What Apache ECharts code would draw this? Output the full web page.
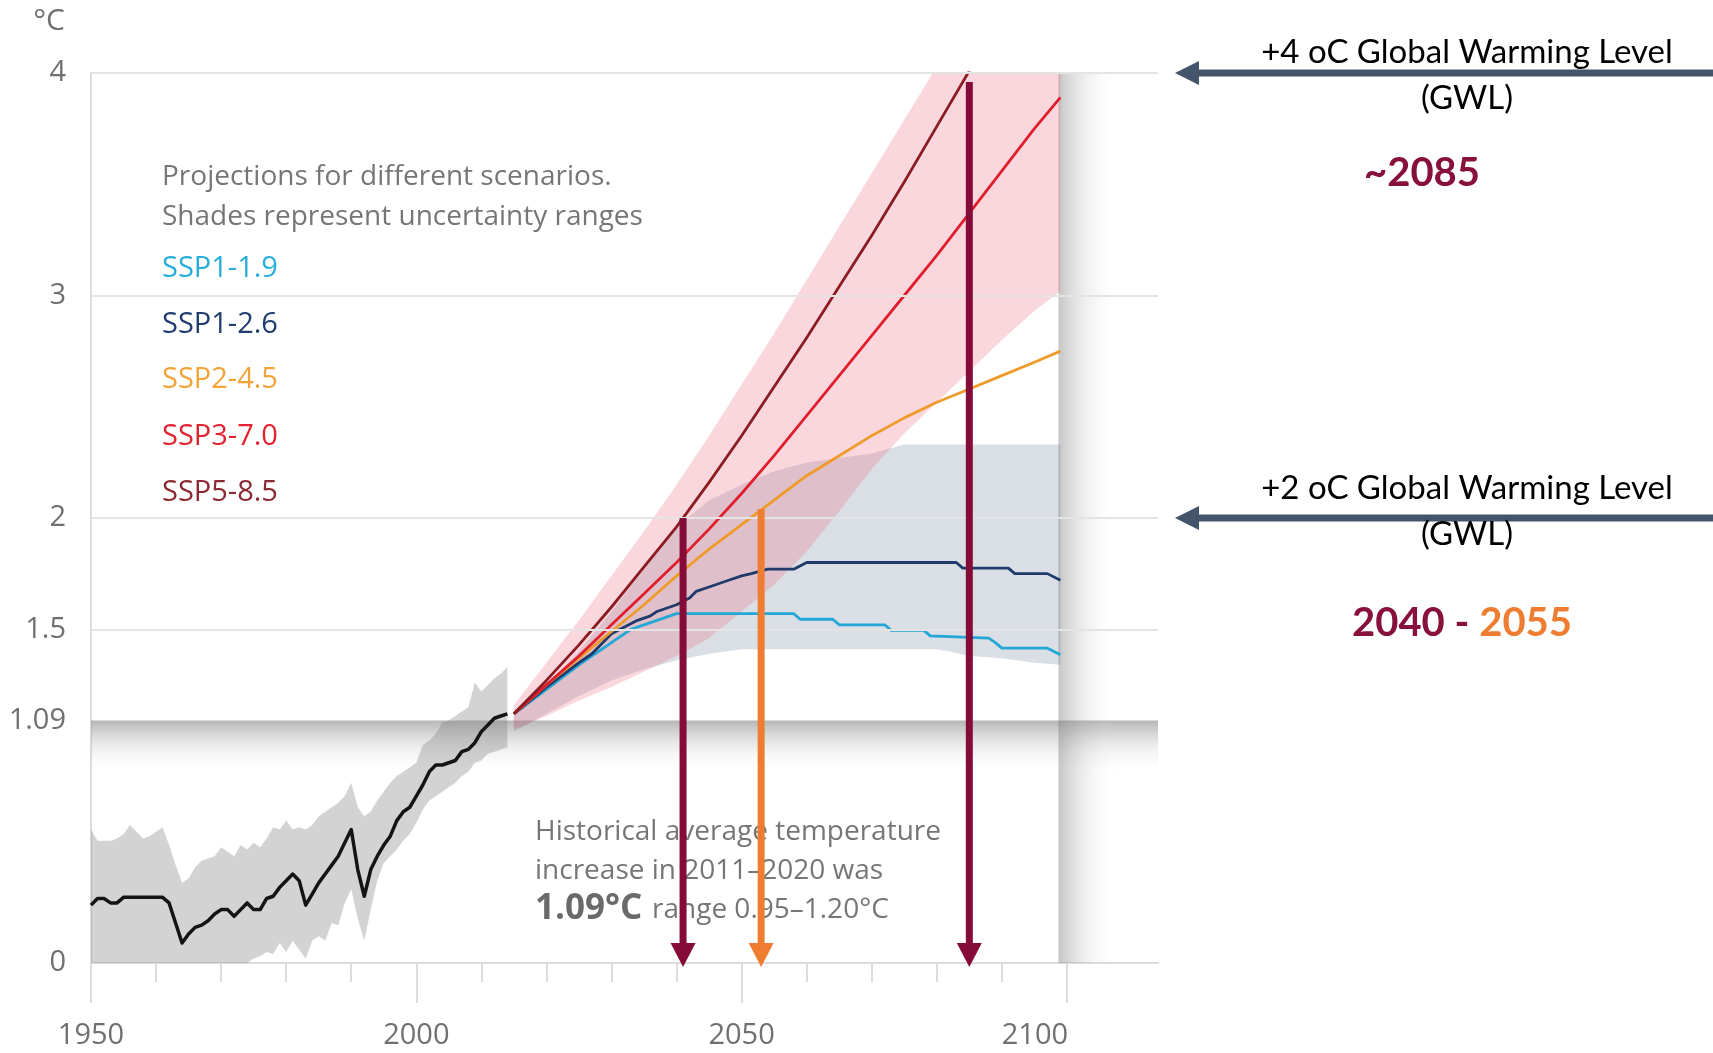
<!DOCTYPE html>
<html>
<head>
<meta charset="utf-8">
<title>Global surface temperature: observed and projected</title>
<script src="https://cdn.jsdelivr.net/npm/echarts@6.0.0/dist/echarts.min.js"></script>
<style>
  html, body { margin: 0; padding: 0; background: #ffffff; }
  #chart { width: 1713px; height: 1053px; }
</style>
</head>
<body>
<div id="chart"></div>
<script>
// ---------------- Observed warming 1950-2014 (°C) ----------------
const histYears = [];
for (let y = 1950; y <= 2014; y++) histYears.push(y);

const histMean = [
  0.26, 0.29, 0.29, 0.27, 0.27, 0.295, 0.295, 0.295, 0.295, 0.295,
  0.295, 0.295, 0.27, 0.18, 0.09, 0.13, 0.16, 0.17, 0.19, 0.22,
  0.24, 0.24, 0.21, 0.24, 0.27, 0.24, 0.24, 0.29, 0.30, 0.34,
  0.37, 0.40, 0.37, 0.26, 0.31, 0.36, 0.40, 0.44, 0.48, 0.54,
  0.60, 0.42, 0.30, 0.42, 0.48, 0.53, 0.57, 0.64, 0.68, 0.70,
  0.75, 0.80, 0.86, 0.89, 0.89, 0.90, 0.91, 0.95, 0.96, 0.99,
  1.04, 1.07, 1.10, 1.11, 1.12
];
const histHigh = [
  0.60, 0.55, 0.55, 0.55, 0.56, 0.58, 0.62, 0.59, 0.56, 0.57,
  0.59, 0.61, 0.53, 0.44, 0.36, 0.38, 0.43, 0.46, 0.47, 0.48,
  0.52, 0.50, 0.48, 0.53, 0.51, 0.54, 0.52, 0.56, 0.61, 0.60,
  0.64, 0.60, 0.61, 0.60, 0.62, 0.66, 0.68, 0.70, 0.72, 0.75,
  0.81, 0.70, 0.66, 0.68, 0.73, 0.77, 0.81, 0.84, 0.86, 0.88,
  0.90, 0.98, 1.00, 1.03, 1.08, 1.09, 1.11, 1.13, 1.15, 1.26,
  1.22, 1.25, 1.28, 1.30, 1.33
];
const histLow = [
  0, 0, 0, 0, 0, 0, 0, 0, 0, 0,
  0, 0, 0, 0, 0, 0, 0, 0, 0, 0,
  0, 0, 0, 0, 0, 0.02, 0.03, 0.05, 0.04, 0.09,
  0.05, 0.10, 0.06, 0.02, 0.10, 0.12, 0.10, 0.18, 0.17, 0.27,
  0.33, 0.20, 0.10, 0.24, 0.37, 0.45, 0.48, 0.51, 0.55, 0.58,
  0.63, 0.69, 0.73, 0.75, 0.77, 0.79, 0.81, 0.84, 0.86, 0.90,
  0.91, 0.94, 0.95, 0.96, 0.97
];

// ---------------- Scenario projections 2015-2099 (°C) ----------------
const ssp119 = [[2015,1.12],[2020,1.23],[2025,1.34],[2027,1.38],[2029,1.42],[2031,1.46],[2033,1.50],[2036,1.53],[2038,1.55],[2040,1.57],[2058,1.57],[2059,1.545],[2064,1.545],[2065,1.52],[2072,1.52],[2073,1.495],[2078,1.495],[2079,1.47],[2088,1.46],[2089,1.44],[2090,1.415],[2097,1.415],[2099,1.385]];
const ssp126 = [[2015,1.12],[2020,1.24],[2025,1.35],[2027,1.39],[2030,1.48],[2032,1.51],[2034,1.54],[2036,1.56],[2037,1.58],[2040,1.61],[2042,1.64],[2043,1.67],[2045,1.69],[2047,1.71],[2048,1.72],[2050,1.74],[2051.5,1.75],[2054,1.77],[2058,1.77],[2060,1.80],[2083,1.80],[2084,1.775],[2091,1.775],[2092,1.75],[2097,1.75],[2099,1.72]];
const ssp245 = [[2015,1.12],[2020,1.25],[2025,1.37],[2030,1.49],[2035,1.61],[2040,1.74],[2045,1.86],[2050,1.97],[2055,2.08],[2060,2.19],[2065,2.28],[2070,2.37],[2075,2.45],[2080,2.52],[2085,2.58],[2090,2.64],[2095,2.70],[2099,2.75]];
const ssp370 = [[2015,1.12],[2020,1.25],[2025,1.38],[2030,1.52],[2035,1.66],[2040,1.80],[2045,1.95],[2050,2.11],[2055,2.28],[2060,2.46],[2065,2.64],[2070,2.82],[2075,3.00],[2080,3.18],[2085,3.37],[2090,3.56],[2095,3.75],[2099,3.89]];
const ssp585 = [[2015,1.12],[2020,1.27],[2025,1.43],[2030,1.60],[2035,1.78],[2040,1.96],[2045,2.16],[2050,2.37],[2055,2.59],[2060,2.81],[2065,3.04],[2070,3.27],[2075,3.51],[2080,3.76],[2085,4.01],[2090,4.26],[2095,4.51],[2099,4.71]];

// Uncertainty ranges
const highRangeYears = [2015,2020,2025,2030,2035,2040,2045,2050,2055,2060,2065,2070,2075,2080,2085,2090,2095,2099];
const highRangeLow  = [1.05,1.11,1.18,1.24,1.31,1.38,1.46,1.58,1.70,1.85,2.03,2.22,2.38,2.52,2.66,2.80,2.93,3.02];
const highRangeHigh = [1.16,1.35,1.54,1.74,1.94,2.15,2.37,2.60,2.83,3.07,3.31,3.55,3.79,4.03,4.27,4.51,4.75,4.95];

const lowRangeYears = [2015,2020,2025,2030,2035,2040,2045,2050,2055,2060,2065,2070,2075,2080,2082,2085,2090,2095,2099];
const lowRangeLow  = [1.04,1.12,1.20,1.27,1.32,1.36,1.39,1.41,1.41,1.41,1.41,1.41,1.41,1.41,1.40,1.38,1.37,1.35,1.34];
const lowRangeHigh = [1.13,1.25,1.40,1.58,1.77,1.96,2.08,2.15,2.21,2.25,2.27,2.29,2.33,2.33,2.33,2.33,2.33,2.33,2.33];

// Years at which the warming levels are crossed, and the level reached
const gwlYears = [2041, 2053, 2085];
const gwlLevels = [2.0, 2.04, 3.96];

// Axis ticks
const yTickValues = [0, 1.09, 1.5, 2, 3, 4];
const gridValues = [1.5, 2, 3, 4];
const xLabelValues = [1950, 2000, 2050, 2100];
const decadeTicks = [];
for (let y = 1950; y <= 2100; y += 10) decadeTicks.push(y);

const scenarioNames = ['SSP1-1.9', 'SSP1-2.6', 'SSP2-4.5', 'SSP3-7.0', 'SSP5-8.5'];

// ---------------- styling ----------------
const lineColors  = ['#22a7d6', '#1f3a6b', '#ee9b2c', '#df1f2d', '#8a1c22'];
const labelColors = ['#27aedb', '#203e70', '#f2a43a', '#e2222e', '#8b2a35'];
const arrowColors = ['#850c38', '#ee7d31', '#850c38'];
const MAROON = '#87103d', ORANGE = '#ee7d31', SLATE = '#44546a';
const AXIS_GREY = '#dcdcdc', TEXT_GREY = '#707070';
const FONT = '"Open Sans", "Noto Sans", sans-serif';
const CAL = 'Lato, "Open Sans", sans-serif';

function rangeSeries(name, years, low, high, fill, z) {
  return {
    type: 'custom', name, z, silent: true,
    data: years.map((y, i) => [y, low[i], high[i]]),
    encode: { x: 0, y: [1, 2] },
    renderItem: function (params, api) {
      if (params.dataIndex !== 0) return null;
      const top = years.map((y, i) => api.coord([y, high[i]]));
      const bottom = years.map((y, i) => api.coord([y, low[i]])).reverse();
      const cs = params.coordSys;
      return {
        type: 'polygon',
        shape: { points: top.concat(bottom) },
        style: { fill: fill },
        clipPath: { type: 'rect', shape: { x: cs.x, y: cs.y, width: cs.width, height: cs.height } }
      };
    }
  };
}

function lineSeries(name, data, color, width, z) {
  return {
    type: 'line', name, data, z, silent: true,
    showSymbol: false, symbol: 'none',
    lineStyle: { color, width, join: 'round' },
    emphasis: { disabled: true }
  };
}

const option = {
  animation: false,
  backgroundColor: '#ffffff',
  grid: { left: 91, top: 73, width: 1067, height: 890, containLabel: false },
  xAxis: [
    {
      type: 'value', min: 1950, max: 2114, gridIndex: 0, position: 'bottom',
      axisLine: { show: true, lineStyle: { color: AXIS_GREY, width: 2 } },
      axisTick: { show: true, customValues: xLabelValues, length: 40, lineStyle: { color: AXIS_GREY, width: 2 } },
      axisLabel: {
        customValues: xLabelValues, margin: 58,
        formatter: v => (v === 2100 ? '{s|2100}' : '{n|' + v + '}'),
        rich: {
          n: { fontFamily: FONT, fontSize: 29, color: TEXT_GREY },
          s: { fontFamily: FONT, fontSize: 29, color: TEXT_GREY, padding: [0, 64, 0, 0] }
        }
      },
      splitLine: { show: false }
    },
    {
      type: 'value', min: 1950, max: 2114, gridIndex: 0, position: 'bottom',
      axisLine: { show: false },
      axisTick: { show: true, customValues: decadeTicks, length: 19, lineStyle: { color: AXIS_GREY, width: 2 } },
      axisLabel: { show: false },
      splitLine: { show: false }
    }
  ],
  yAxis: {
    type: 'value', min: 0, max: 4,
    axisLine: { show: true, lineStyle: { color: AXIS_GREY, width: 2 } },
    axisTick: { show: false },
    axisLabel: {
      customValues: yTickValues, margin: 25,
      fontFamily: FONT, fontSize: 29, color: TEXT_GREY,
      formatter: v => String(v)
    },
    splitLine: { show: false }
  },
  series: [
    // shaded reference bands and gridlines
    {
      type: 'line', name: 'frame', data: [], z: 1, silent: true,
      markArea: {
        silent: true,
        data: [
          [
            { yAxis: 1.09, itemStyle: { color: new echarts.graphic.LinearGradient(0, 0, 0, 1, [
              { offset: 0, color: 'rgba(115,115,115,0.52)' },
              { offset: 0.4, color: 'rgba(150,150,150,0.24)' },
              { offset: 1, color: 'rgba(255,255,255,0)' }
            ]) } },
            { yAxis: 0.85 }
          ],
          [
            { xAxis: 2098.7, itemStyle: { color: new echarts.graphic.LinearGradient(0, 0, 1, 0, [
              { offset: 0, color: 'rgba(120,120,120,0.42)' },
              { offset: 0.4, color: 'rgba(150,150,150,0.18)' },
              { offset: 1, color: 'rgba(255,255,255,0)' }
            ]) } },
            { xAxis: 2108 }
          ]
        ]
      },
      markLine: {
        silent: true, symbol: 'none', label: { show: false },
        lineStyle: { color: '#e4e4e4', width: 2, type: 'solid' },
        data: gridValues.map(v => ({ yAxis: v }))
      }
    },
    rangeSeries('observed range', histYears, histLow, histHigh, 'rgba(120,120,120,0.33)', 2),
    rangeSeries('low-emission range', lowRangeYears, lowRangeLow, lowRangeHigh, 'rgba(100,120,150,0.24)', 2),
    rangeSeries('high-emission range', highRangeYears, highRangeLow, highRangeHigh, 'rgba(235,95,120,0.25)', 2),
    lineSeries('observed', histYears.map((y, i) => [y, histMean[i]]), '#141414', 3.5, 3),
    lineSeries(scenarioNames[0], ssp119, lineColors[0], 2.8, 3),
    lineSeries(scenarioNames[1], ssp126, lineColors[1], 2.8, 3),
    lineSeries(scenarioNames[2], ssp245, lineColors[2], 2.8, 3),
    lineSeries(scenarioNames[3], ssp370, lineColors[3], 2.8, 3),
    lineSeries(scenarioNames[4], ssp585, lineColors[4], 2.8, 3),
    // drop arrows from the warming-level crossings to the time axis
    {
      type: 'custom', name: 'crossing years', z: 6, silent: true,
      data: gwlYears.map((y, i) => [y, gwlLevels[i]]),
      encode: { x: 0, y: 1 },
      renderItem: function (params, api) {
        const x = api.value(0), lvl = api.value(1);
        const p0 = api.coord([x, lvl]);
        const p1 = api.coord([x, 0]);
        const tipY = p1[1] + 4, headH = 24, headW = 25, shaft = 7;
        const color = arrowColors[params.dataIndex];
        return {
          type: 'group',
          children: [
            { type: 'rect', shape: { x: p0[0] - shaft / 2, y: p0[1], width: shaft, height: tipY - headH + 1 - p0[1] }, style: { fill: color } },
            { type: 'polygon', shape: { points: [[p0[0] - headW / 2, tipY - headH], [p0[0] + headW / 2, tipY - headH], [p0[0], tipY]] }, style: { fill: color } }
          ]
        };
      }
    }
  ]
};

const chart = echarts.init(document.getElementById('chart'), null, { renderer: 'canvas' });
chart.setOption(option);

// Annotation layer: warming-level pointers and texts
const y4 = chart.convertToPixel({ yAxisIndex: 0 }, 4);
const y2 = chart.convertToPixel({ yAxisIndex: 0 }, 2);

function txt(x, y, text, font, fill, align) {
  return { type: 'text', x, y, z: 1, silent: true,
    style: { text, font, fill, align: align || 'left', verticalAlign: 'middle' } };
}
function leftArrow(y) {
  return [
    { type: 'line', silent: true, shape: { x1: 1713, y1: y, x2: 1195, y2: y }, style: { stroke: SLATE, lineWidth: 7 } },
    { type: 'polygon', silent: true, shape: { points: [[1175, y], [1199, y - 12], [1199, y + 12]] }, style: { fill: SLATE } }
  ];
}

const graphics = [
  txt(49, 21, '°C', '30px ' + FONT, TEXT_GREY, 'center'),
  txt(162, 177, 'Projections for different scenarios.', '28px ' + FONT, '#767676'),
  txt(162, 217, 'Shades represent uncertainty ranges', '28px ' + FONT, '#767676'),
  txt(535, 832, 'Historical average temperature', '28px ' + FONT, '#767676'),
  txt(535, 871, 'increase in 2011–2020 was', '28px ' + FONT, '#767676'),
  txt(535, 909, '1.09°C', 'bold 35px ' + FONT, '#6a6a6a'),
  txt(652, 910, 'range 0.95–1.20°C', '28px ' + FONT, '#767676'),
  ...leftArrow(y4),
  ...leftArrow(y2),
  txt(1467, y4 - 21, '+4 oC Global Warming Level', '33px ' + CAL, '#000000', 'center'),
  txt(1467, y4 + 25, '(GWL)', '33px ' + CAL, '#000000', 'center'),
  txt(1422, y4 + 100, '~2085', 'bold 40px ' + CAL, MAROON, 'center'),
  txt(1467, y2 - 30, '+2 oC Global Warming Level', '33px ' + CAL, '#000000', 'center'),
  txt(1467, y2 + 16, '(GWL)', '33px ' + CAL, '#000000', 'center'),
  {
    type: 'text', x: 1462, y: y2 + 105, z: 1, silent: true,
    style: {
      text: '{a|2040 - }{b|2055}', align: 'center', verticalAlign: 'middle',
      font: 'bold 40px ' + CAL,
      rich: {
        a: { font: 'bold 40px ' + CAL, fill: MAROON },
        b: { font: 'bold 40px ' + CAL, fill: ORANGE }
      }
    }
  }
];
const legendY = [269, 324.5, 380, 437, 493];
scenarioNames.forEach((n, i) => graphics.push(txt(162, legendY[i], n, '29px ' + FONT, labelColors[i])));

chart.setOption({ graphic: graphics });
</script>
</body>
</html>
